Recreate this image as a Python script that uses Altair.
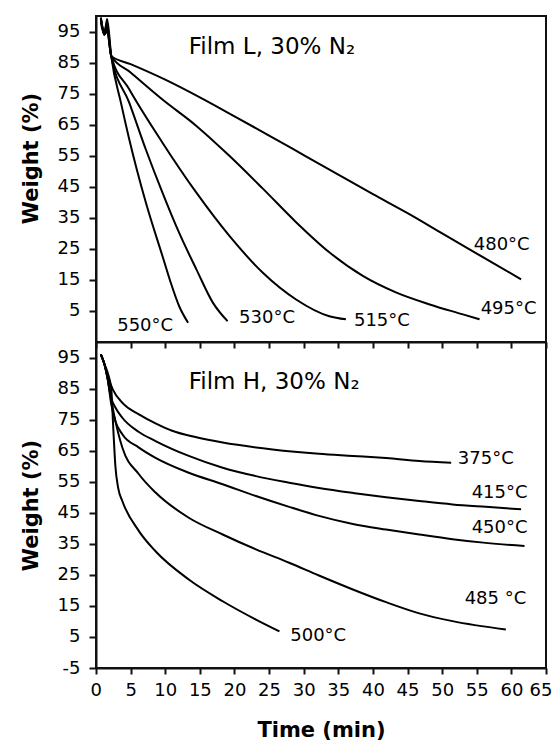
import altair as alt
import pandas as pd

# ---------------- data ----------------
X_TICKS = [0, 5, 10, 15, 20, 25, 30, 35, 40, 45, 50, 55, 60, 65]
Y_TICKS_TOP = [5, 15, 25, 35, 45, 55, 65, 75, 85, 95]
Y_TICKS_BOT = [-5, 5, 15, 25, 35, 45, 55, 65, 75, 85, 95]

# Film L, 30% N2
L480_t = [0.7, 1.2, 1.6, 2.2, 5, 10, 15, 20, 25, 30, 35, 40, 45, 50, 55, 61.4]
L480_w = [99, 95, 97.5, 87.1, 84.5, 79.5, 73.8, 67.7, 61.5, 55.2, 48.9, 42.6, 36.5, 30.0, 23.5, 15.2]
L495_t = [0.7, 1.2, 1.6, 2.2, 5, 9.6, 14.5, 19.3, 24.1, 28.9, 33.7, 38.6, 43.4, 48.2, 53.0, 55.4]
L495_w = [99.5, 94, 96, 87.1, 81.8, 73.1, 64.6, 54.9, 44.4, 33.6, 23.9, 16.2, 10.9, 7.1, 3.9, 2.3]
L515_t = [0.7, 1.2, 1.6, 2.2, 4.8, 9.6, 14.5, 19.3, 24.1, 28.9, 33.7, 36.1]
L515_w = [98, 94, 95, 87.1, 76.4, 59.2, 43.1, 29.1, 17.3, 8.7, 3.3, 2.3]
L530_t = [0.7, 1.2, 1.6, 2.2, 4.8, 7.2, 9.6, 12.0, 14.5, 16.9, 19.0]
L530_w = [99, 95, 96.5, 87.1, 72.1, 57.0, 43.1, 30.2, 18.4, 7.6, 1.7]
L550_t = [0.7, 1.2, 1.6, 2.2, 3.6, 4.8, 7.2, 9.6, 10.8, 12.0, 13.3]
L550_w = [99.5, 94, 99, 87.1, 72.1, 60.3, 39.9, 22.7, 14.1, 6.6, 1.2]

# Film H, 30% N2
H375_t = [0.7, 1.2, 1.7, 2.4, 4.0, 6.2, 8.6, 11.0, 14.5, 18.3, 25.5, 32.2, 37.1, 41.9, 46.7, 51.3]
H375_w = [96, 93, 89, 84.8, 80, 76.7, 73.8, 71.4, 69.3, 67.6, 65.4, 64.0, 63.3, 62.6, 61.7, 61.1]
H415_t = [0.7, 1.2, 1.7, 2.2, 2.8, 3.8, 6.2, 8.6, 13.4, 18.3, 23.1, 27.9, 32.2, 37.1, 41.9, 46.7, 51.5, 56.3, 61.4]
H415_w = [96, 93, 88, 82, 78.9, 75.6, 71, 68.1, 63.3, 59.5, 56.8, 54.7, 53.0, 51.4, 50.0, 48.8, 47.7, 46.9, 46.1]
H450_t = [0.7, 1.2, 1.7, 2.2, 2.8, 3.8, 6.2, 8.6, 13.4, 18.3, 23.1, 27.9, 32.2, 37.1, 41.9, 46.7, 51.5, 56.3, 61.9]
H450_w = [96, 93, 88, 80, 74.5, 70.3, 66.0, 62.7, 57.9, 54.2, 50.4, 46.9, 44.0, 41.4, 39.6, 38.0, 36.5, 35.3, 34.3]
H485_t = [0.7, 1.2, 1.7, 2.0, 2.6, 3.8, 6.2, 8.6, 13.4, 18.3, 23.1, 27.9, 32.2, 37.1, 41.9, 46.7, 51.5, 59.2]
H485_w = [96, 93, 88, 84, 76.7, 66.0, 57.4, 51.5, 43.4, 38.0, 33.2, 28.9, 24.8, 20.3, 16.2, 12.6, 10.1, 7.4]
H500_t = [0.7, 1.2, 1.7, 2.2, 2.5, 2.8, 3.2, 3.8, 6.2, 8.6, 13.4, 18.3, 23.1, 26.5]
H500_w = [96, 93, 90, 85, 72, 60, 53, 48.8, 39.1, 32.6, 23.5, 16.5, 10.6, 6.8]

TOP_LABELS = ["480°C", "495°C", "515°C", "530°C", "550°C"]
TOP_LABEL_T = [58.6, 59.6, 41.3, 24.7, 7.1]
TOP_LABEL_W = [26.4, 5.7, 1.7, 2.8, 0.1]
BOT_LABELS = ["375°C", "415°C", "450°C", "485 °C", "500°C"]
BOT_LABEL_T = [56.3, 58.3, 58.3, 57.7, 32.1]
BOT_LABEL_W = [62.3, 51.5, 40.2, 17.2, 5.2]

TOP_TITLE = ["Film L, 30% N\u2082"]
TOP_TITLE_T = [13.4]
TOP_TITLE_W = [87.9]
BOT_TITLE = ["Film H, 30% N\u2082"]
BOT_TITLE_T = [13.4]
BOT_TITLE_W = [84.8]

# ---------------- build tables ----------------
def long_table(series):
    rows = []
    for name, ts, ws in series:
        for t, w in zip(ts, ws):
            rows.append({"series": name, "t": t, "w": w})
    return pd.DataFrame(rows)

df_top = long_table([("480", L480_t, L480_w), ("495", L495_t, L495_w), ("515", L515_t, L515_w),
                     ("530", L530_t, L530_w), ("550", L550_t, L550_w)])
df_bot = long_table([("375", H375_t, H375_w), ("415", H415_t, H415_w), ("450", H450_t, H450_w),
                     ("485", H485_t, H485_w), ("500", H500_t, H500_w)])

lab_top = pd.DataFrame({"label": TOP_LABELS, "t": TOP_LABEL_T, "w": TOP_LABEL_W})
lab_bot = pd.DataFrame({"label": BOT_LABELS, "t": BOT_LABEL_T, "w": BOT_LABEL_W})
tit_top = pd.DataFrame({"label": TOP_TITLE, "t": TOP_TITLE_T, "w": TOP_TITLE_W})
tit_bot = pd.DataFrame({"label": BOT_TITLE, "t": BOT_TITLE_T, "w": BOT_TITLE_W})

FONT = "DejaVu Sans"
W, H = 450, 326
xscale = alt.Scale(domain=[0, 65], nice=False, zero=False)
yscale = alt.Scale(domain=[-5, 100], nice=False, zero=False)
MINUS_EXPR = "datum.value < 0 ? '-' + format(-datum.value, 'd') : datum.label"


def panel(df, labs, tit, yticks, show_x_labels, title_y):
    xaxis = alt.Axis(values=X_TICKS, labels=show_x_labels, title="Time (min)" if show_x_labels else None,
                     tickSize=6, grid=False, labelPadding=7, titlePadding=20,
                     labelOverlap=False, labelFlush=True, labelFlushOffset=6)
    yaxis_kwargs = dict(values=yticks, title="Weight (%)", grid=False, tickSize=7, labelPadding=9,
                        titleX=-55, titleBaseline="bottom", labelOverlap=False, labelFlush=False,
                        labelExpr=MINUS_EXPR)
    if title_y is not None:
        yaxis_kwargs["titleY"] = title_y
    yaxis = alt.Axis(**yaxis_kwargs)
    X = alt.X("t:Q", scale=xscale, axis=xaxis)
    Y = alt.Y("w:Q", scale=yscale, axis=yaxis)
    lines = alt.Chart(df).mark_line(color="black", strokeWidth=2, interpolate="monotone").encode(
        x=X, y=Y, detail="series:N")
    labels = alt.Chart(labs).mark_text(font=FONT, fontSize=18, color="black", align="center",
                                        baseline="middle").encode(x=X, y=Y, text="label:N")
    title = alt.Chart(tit).mark_text(font=FONT, fontSize=23, color="black", align="left",
                                      baseline="alphabetic").encode(x=X, y=Y, text="label:N")
    return alt.layer(lines, labels, title).properties(width=W, height=H)


top = panel(df_top, lab_top, tit_top, Y_TICKS_TOP, False, 142)
bot = panel(df_bot, lab_bot, tit_bot, Y_TICKS_BOT, True, None)

chart = alt.vconcat(top, bot, spacing=0, bounds="flush").properties(
    padding={"left": 18, "top": 12, "right": 0, "bottom": 0}
).configure_view(
    stroke="#111", strokeWidth=2
).configure_axis(
    domainColor="#111", domainWidth=2, tickColor="#111", tickWidth=2,
    labelFont=FONT, labelFontSize=18, labelColor="black", labelOverlap=False,
    titleFont=FONT, titleFontSize=21, titleFontWeight="bold", titleColor="black"
)

chart.save("out.html", embed_options={"renderer": "svg", "actions": False})
